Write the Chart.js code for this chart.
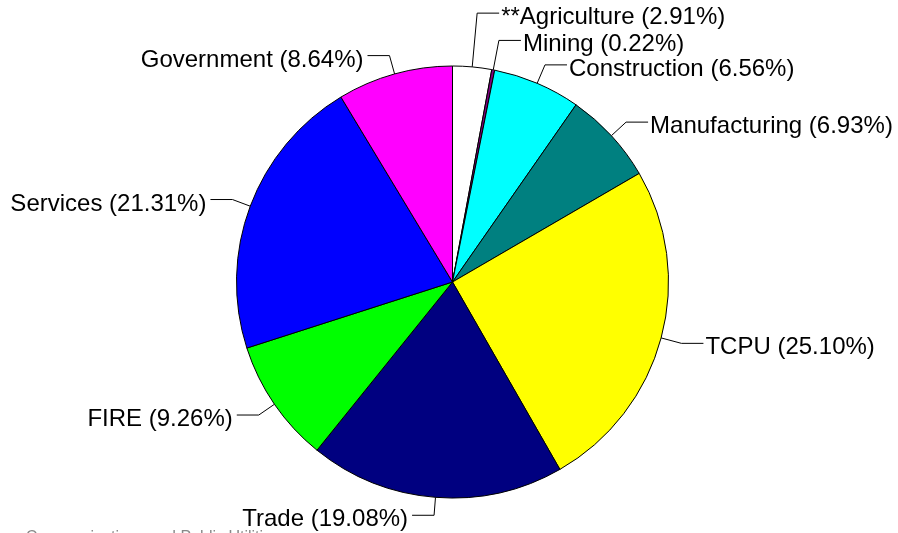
<!DOCTYPE html>
<html>
<head>
<meta charset="utf-8">
<script src="https://cdn.jsdelivr.net/npm/chart.js@4"></script>
<style>
html,body{margin:0;padding:0;background:#fff;}
#wrap{width:898px;height:533px;position:relative;}
</style>
</head>
<body>
<div id="wrap"><canvas id="c"></canvas></div>
<script>
const categories = ["**Agriculture","Mining","Construction","Manufacturing","TCPU","Trade","FIRE","Services","Government"];
const shares = [2.91,0.22,6.56,6.93,25.10,19.08,9.26,21.31,8.64];
const sliceColors = ["#FFFFFF","#800080","#00FFFF","#008080","#FFFF00","#000080","#00FF00","#0000FF","#FF00FF"];
// radial distance of the leader elbow beyond the pie edge (label layout)
const elbowOffsets = [54,30,20,20,21,18,19,19,19];
const footnote = "Communications and Public Utilities";

const leaderPlugin = {
  id:'leaders',
  afterDraw(chart){
    const ctx = chart.ctx;
    const meta = chart.getDatasetMeta(0);
    ctx.save();
    ctx.font = '24px "Liberation Sans", Arial, sans-serif';
    ctx.strokeStyle = '#000';
    ctx.lineWidth = 1;
    ctx.fillStyle = '#000';
    ctx.textBaseline = 'alphabetic';
    meta.data.forEach((arc,i)=>{
      const p = arc.getProps(['x','y','startAngle','endAngle','outerRadius'],true);
      const mid = (p.startAngle+p.endAngle)/2;
      const ex = p.x + Math.cos(mid)*p.outerRadius;
      const ey = p.y + Math.sin(mid)*p.outerRadius;
      const r2 = p.outerRadius + elbowOffsets[i];
      const bx = p.x + Math.cos(mid)*r2;
      const by = p.y + Math.sin(mid)*r2;
      const right = Math.cos(mid) >= 0;
      const hx = right ? bx + 22 : bx - 22;
      ctx.beginPath();
      ctx.moveTo(ex,ey);
      ctx.lineTo(bx,by);
      ctx.lineTo(hx,by);
      ctx.stroke();
      const label = categories[i] + ' (' + shares[i].toFixed(2) + '%)';
      ctx.textAlign = right ? 'left' : 'right';
      ctx.fillText(label, right ? hx + 2 : hx - 4, by + 11);
    });
    ctx.font = '16px "Liberation Sans", Arial, sans-serif';
    ctx.fillStyle = '#888';
    ctx.textAlign = 'right';
    ctx.fillText(footnote, 280, 542);
    ctx.restore();
  }
};

new Chart(document.getElementById('c'), {
  type:'pie',
  data:{
    labels:categories,
    datasets:[{
      data:shares,
      backgroundColor:sliceColors,
      borderColor:'#000',
      borderWidth:1,
      borderAlign:'center'
    }]
  },
  options:{
    responsive:true,
    maintainAspectRatio:false,
    animation:false,
    layout:{padding:{top:64,bottom:33,left:236,right:229}},
    plugins:{legend:{display:false},tooltip:{enabled:false}}
  },
  plugins:[leaderPlugin]
});
</script>
</body>
</html>
